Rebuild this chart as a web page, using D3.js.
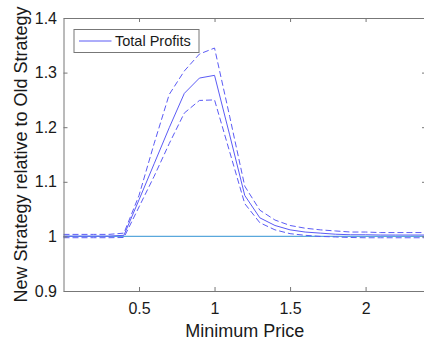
<!DOCTYPE html>
<html>
<head>
<meta charset="utf-8">
<script src="https://cdn.jsdelivr.net/npm/d3@7"></script>
<style>
  body { margin: 0; background: #fff; }
  text { font-family: "Liberation Sans", Arial, sans-serif; fill: #1a1a1a; }
</style>
</head>
<body>
<div id="chart"></div>
<script>
const price = [0, 0.1, 0.2, 0.3, 0.4, 0.5, 0.6, 0.7, 0.8, 0.9, 1.0, 1.1, 1.2,
  1.3, 1.4, 1.5, 1.6, 1.7, 1.8, 1.9, 2.0, 2.1, 2.2, 2.3, 2.4];
const profit = [1.0005, 1.0005, 1.0005, 1.0005, 1.002, 1.067, 1.133, 1.199, 1.262, 1.290, 1.295, 1.186, 1.075,
  1.034, 1.020, 1.012, 1.008, 1.006, 1.004, 1.003, 1.003, 1.0025, 1.0025, 1.0025, 1.0025];
const upper = [1.0037, 1.0037, 1.0037, 1.0037, 1.006, 1.075, 1.17, 1.26, 1.303, 1.334, 1.345, 1.22, 1.092,
  1.048, 1.030, 1.020, 1.015, 1.012, 1.010, 1.008, 1.008, 1.007, 1.007, 1.007, 1.007];
const lower = [0.9976, 0.9976, 0.9976, 0.9976, 0.998, 1.054, 1.11, 1.17, 1.226, 1.249, 1.25, 1.155, 1.06,
  1.025, 1.012, 1.005, 1.002, 1.0, 0.999, 0.998, 0.9975, 0.9975, 0.9975, 0.9975, 0.9975];
const baseline = 1.0;
const xTicks = [0.5, 1, 1.5, 2];
const yTicks = [0.9, 1.0, 1.1, 1.2, 1.3, 1.4];

const width = 424;
const height = 343;
const margin = { top: 18, right: -2, bottom: 52, left: 63.5 };

const svg = d3.select('#chart')
  .append('svg')
  .attr('width', width)
  .attr('height', height);

const x = d3.scaleLinear()
  .domain([0, 2.4])
  .range([margin.left, width - margin.right]);

const y = d3.scaleLinear()
  .domain([0.9, 1.4])
  .range([height - margin.bottom, margin.top]);

const lineColor = '#5b5bf5';
const line = vals => d3.line()
  .x((d, i) => x(price[i]))
  .y(d => y(d))(vals);

// reference line at 1
svg.append('line')
  .attr('x1', x(0)).attr('x2', x(2.4))
  .attr('y1', y(baseline)).attr('y2', y(baseline))
  .attr('stroke', '#5aa8dc')
  .attr('stroke-width', 1.2);

svg.append('path')
  .attr('d', line(upper))
  .attr('fill', 'none')
  .attr('stroke', lineColor)
  .attr('stroke-dasharray', '6,3');

svg.append('path')
  .attr('d', line(lower))
  .attr('fill', 'none')
  .attr('stroke', lineColor)
  .attr('stroke-dasharray', '6,3');

svg.append('path')
  .attr('d', line(profit))
  .attr('fill', 'none')
  .attr('stroke', lineColor);

// axes, matlab style: ticks inside, box all round
function styleAxis(g) {
  g.select('.domain').attr('stroke', '#777');
  g.selectAll('.tick line').attr('stroke', '#777');
  g.selectAll('text').attr('font-size', '16px').attr('fill', '#1a1a1a')
    .attr('font-family', '"Liberation Sans", Arial, sans-serif');
}

svg.append('g')
  .attr('transform', `translate(0,${y(0.9)})`)
  .call(d3.axisBottom(x).tickValues(xTicks).tickFormat(d3.format('')).tickSizeInner(-4).tickSizeOuter(0).tickPadding(12))
  .call(styleAxis);

svg.append('g')
  .attr('transform', `translate(0,${y(1.4)})`)
  .call(d3.axisTop(x).tickValues(xTicks).tickFormat('').tickSizeInner(-4).tickSizeOuter(0))
  .call(styleAxis);

svg.append('g')
  .attr('transform', `translate(${x(0)},0)`)
  .call(d3.axisLeft(y).tickValues(yTicks).tickFormat(d => d === 1 ? '1' : d3.format('.1f')(d)).tickSizeInner(-4).tickSizeOuter(0).tickPadding(6.5))
  .call(styleAxis);

svg.append('g')
  .attr('transform', `translate(${x(2.4)},0)`)
  .call(d3.axisRight(y).tickValues(yTicks).tickFormat('').tickSizeInner(-4).tickSizeOuter(0))
  .call(styleAxis);

// axis labels
svg.append('text')
  .attr('x', (x(0) + x(2.4)) / 2)
  .attr('y', 337)
  .attr('text-anchor', 'middle')
  .attr('font-size', '18px')
  .text('Minimum Price');

svg.append('text')
  .attr('transform', `translate(27,${(y(0.9) + y(1.4)) / 2}) rotate(-90)`)
  .attr('text-anchor', 'middle')
  .attr('font-size', '18px')
  .text('New Strategy relative to Old Strategy');

// legend
const legend = svg.append('g').attr('transform', 'translate(74,29.5)');
legend.append('rect')
  .attr('width', 125).attr('height', 23)
  .attr('fill', '#fff')
  .attr('stroke', '#777');
legend.append('line')
  .attr('x1', 5).attr('x2', 37.5)
  .attr('y1', 11.5).attr('y2', 11.5)
  .attr('stroke', lineColor);
legend.append('text')
  .attr('x', 41).attr('y', 16.5)
  .attr('font-size', '14.5px')
  .text('Total Profits');
</script>
</body>
</html>
